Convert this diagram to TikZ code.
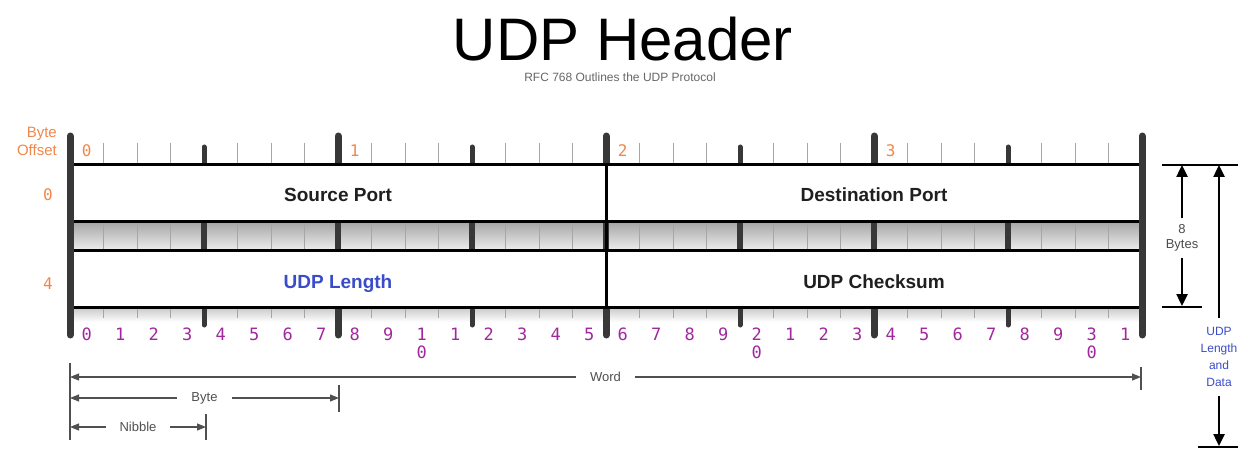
\documentclass[tikz,border=0pt]{standalone}
\usepackage{fontspec}
\setmainfont{Liberation Sans}
\newfontfamily\digitfont{DejaVu Sans Mono}
\usetikzlibrary{arrows.meta, positioning, calc}
\definecolor{udporange}{HTML}{F0874A}
\definecolor{udppurple}{HTML}{A0289C}
\definecolor{udpblue}{HTML}{3A4CC8}
\definecolor{udpgray}{HTML}{505050}
\definecolor{udpbar}{HTML}{383838}

\begin{document}
\begin{tikzpicture}[x=1pt, y=-1pt,
  fieldlabel/.style={font=\fontsize{19}{22}\selectfont\bfseries, text=black!88, anchor=base, inner sep=0pt},
  offsetdigit/.style={font=\digitfont\fontsize{16}{18}\selectfont, text=udporange, anchor=base, inner sep=0pt},
  bitdigit/.style={font=\digitfont\fontsize{17}{18}\selectfont, text=udppurple, anchor=base, inner sep=0pt},
  bytebar/.style={line width=7pt, udpbar, line cap=round},
  nibblebar/.style={line width=5pt, udpbar, line cap=round},
  bandbar/.style={line width=6pt, udpbar},
  bittick/.style={line width=1pt, black!35},
  dimtick/.style={line width=1.2pt, udpgray},
  dimline/.style={line width=1.2pt, udpgray, {Triangle[length=9pt,width=7pt]}-{Triangle[length=9pt,width=7pt]}},
  dimlabel/.style={font=\fontsize{13}{15}\selectfont, text=udpgray, fill=white, inner xsep=14pt, inner ysep=1pt},
  sidelabel/.style={font=\fontsize{13}{15}\selectfont, align=center, inner xsep=0pt},
  bigarrow/.style={line width=2.5pt, -{Triangle[length=12pt,width=11pt]}},
  endline/.style={line width=2pt}
]
  \useasboundingbox (0,0) rectangle (1248,449);

  % Title
  \node[font=\fontsize{60}{66}\selectfont, anchor=base, inner sep=0pt] (title) at (623,61) {UDP Header};
  \node[font=\fontsize{12}{14}\selectfont, text=black!60, anchor=base, inner sep=0pt] (subtitle) at (620,82) {RFC 768 Outlines the UDP Protocol};

  % Shaded bands
  \shade[top color=black!35, bottom color=black!6] (70,222) rectangle (1142,251);
  \shade[top color=black!22, bottom color=white] (70,307) rectangle (1142,322);

  % Ruler ticks (top, middle band, bottom)
  \foreach \i in {1,...,31}{
    \pgfmathtruncatemacro{\bm}{mod(\i,8)}
    \pgfmathtruncatemacro{\nm}{mod(\i,4)}
    \pgfmathsetmacro{\bx}{70+33.5*\i}
    \ifnum\bm=0
      \draw[bytebar] (\bx,136) -- (\bx,165);
      \draw[bandbar] (\bx,222) -- (\bx,251);
      \draw[bytebar] (\bx,307) -- (\bx,335);
    \else\ifnum\nm=0
      \draw[nibblebar] (\bx,147) -- (\bx,165);
      \draw[bandbar] (\bx,222) -- (\bx,251);
      \draw[nibblebar] (\bx,307) -- (\bx,325);
    \else
      \draw[bittick] (\bx,143) -- (\bx,163);
      \draw[bittick] (\bx,222) -- (\bx,251);
      \draw[bittick] (\bx,307) -- (\bx,318);
    \fi\fi
  }

  % Header rows
  \draw[line width=3pt, fill=white] (70,165) rectangle (1142,222);
  \draw[line width=3pt, fill=white] (70,251) rectangle (1142,307);
  \draw[line width=3pt] (606,165) -- (606,307);
  \draw[bytebar] (70,136) -- (70,335);
  \draw[bytebar] (1142,136) -- (1142,335);

  \node[fieldlabel] (srcport) at (338,202) {Source Port};
  \node[fieldlabel] (dstport) at (874,202) {Destination Port};
  \node[fieldlabel, text=udpblue] (udplength) at (338,288) {UDP Length};
  \node[fieldlabel] (checksum) at (874,288) {UDP Checksum};

  % Byte offsets
  \node[font=\fontsize{15}{18}\selectfont, text=udporange, align=right, anchor=east, inner sep=0pt] (offsetlbl) at (57,141) {Byte\\Offset};
  \foreach \b in {0,...,3}
    \node[offsetdigit] (byte\b) at (86.75+268*\b,157) {\b};
  \node[offsetdigit] (row0) at (48,201) {0};
  \node[offsetdigit] (row4) at (48,289) {4};

  % Bit numbers
  \foreach \i in {0,...,31}{
    \pgfmathtruncatemacro{\lo}{mod(\i,10)}
    \pgfmathtruncatemacro{\hi}{\i/10}
    \ifnum\lo=0 \ifnum\i>0
      \node[bitdigit] (bit\i) at (86.75+33.5*\i,340) {\hi};
      \node[bitdigit] (bit\i z) at (86.75+33.5*\i,358) {0};
    \else
      \node[bitdigit] (bit\i) at (86.75+33.5*\i,340) {0};
    \fi\else
      \node[bitdigit] (bit\i) at (86.75+33.5*\i,340) {\lo};
    \fi
  }

  % Word / Byte / Nibble
  \draw[dimtick] (70,363) -- (70,440);
  \draw[dimtick] (1141,367) -- (1141,390);
  \draw[dimtick] (339,385) -- (339,412);
  \draw[dimtick] (206,414) -- (206,440);
  \coordinate (wordL) at (70,377);
  \coordinate (wordR) at (1141,377);
  \coordinate (byteL) at (70,398);
  \coordinate (byteR) at (339,398);
  \coordinate (nibL) at (70,427);
  \coordinate (nibR) at (206,427);
  \draw[dimline] (wordL) -- node[dimlabel] (wordlbl) {Word} (wordR);
  \draw[dimline] (byteL) -- node[dimlabel] (bytelbl) {Byte} (byteR);
  \draw[dimline] (nibL) -- node[dimlabel] (niblbl) {Nibble} (nibR);

  % Header size and datagram length
  \draw[endline] (1162,165) -- (1238,165);
  \draw[endline] (1162,307) -- (1202,307);
  \draw[endline] (1198,447) -- (1238,447);
  \coordinate (hdrtop) at (1182,165);
  \coordinate (hdrbot) at (1182,306);
  \coordinate (lentop) at (1219,165);
  \coordinate (lenbot) at (1219,446);
  \node[sidelabel, text=black!70, inner ysep=6pt] (eightbytes) at (1182,238) {8\\Bytes};
  \draw[bigarrow] (eightbytes.north) -- (hdrtop);
  \draw[bigarrow] (eightbytes.south) -- (hdrbot);
  \node[sidelabel, text=udpblue, font=\fontsize{12}{17}\selectfont, inner ysep=9pt] (udplen) at (1219,357) {UDP\\Length\\and\\Data};
  \draw[bigarrow] (udplen.north) -- (lentop);
  \draw[bigarrow] (udplen.south) -- (lenbot);
\end{tikzpicture}
\end{document}
